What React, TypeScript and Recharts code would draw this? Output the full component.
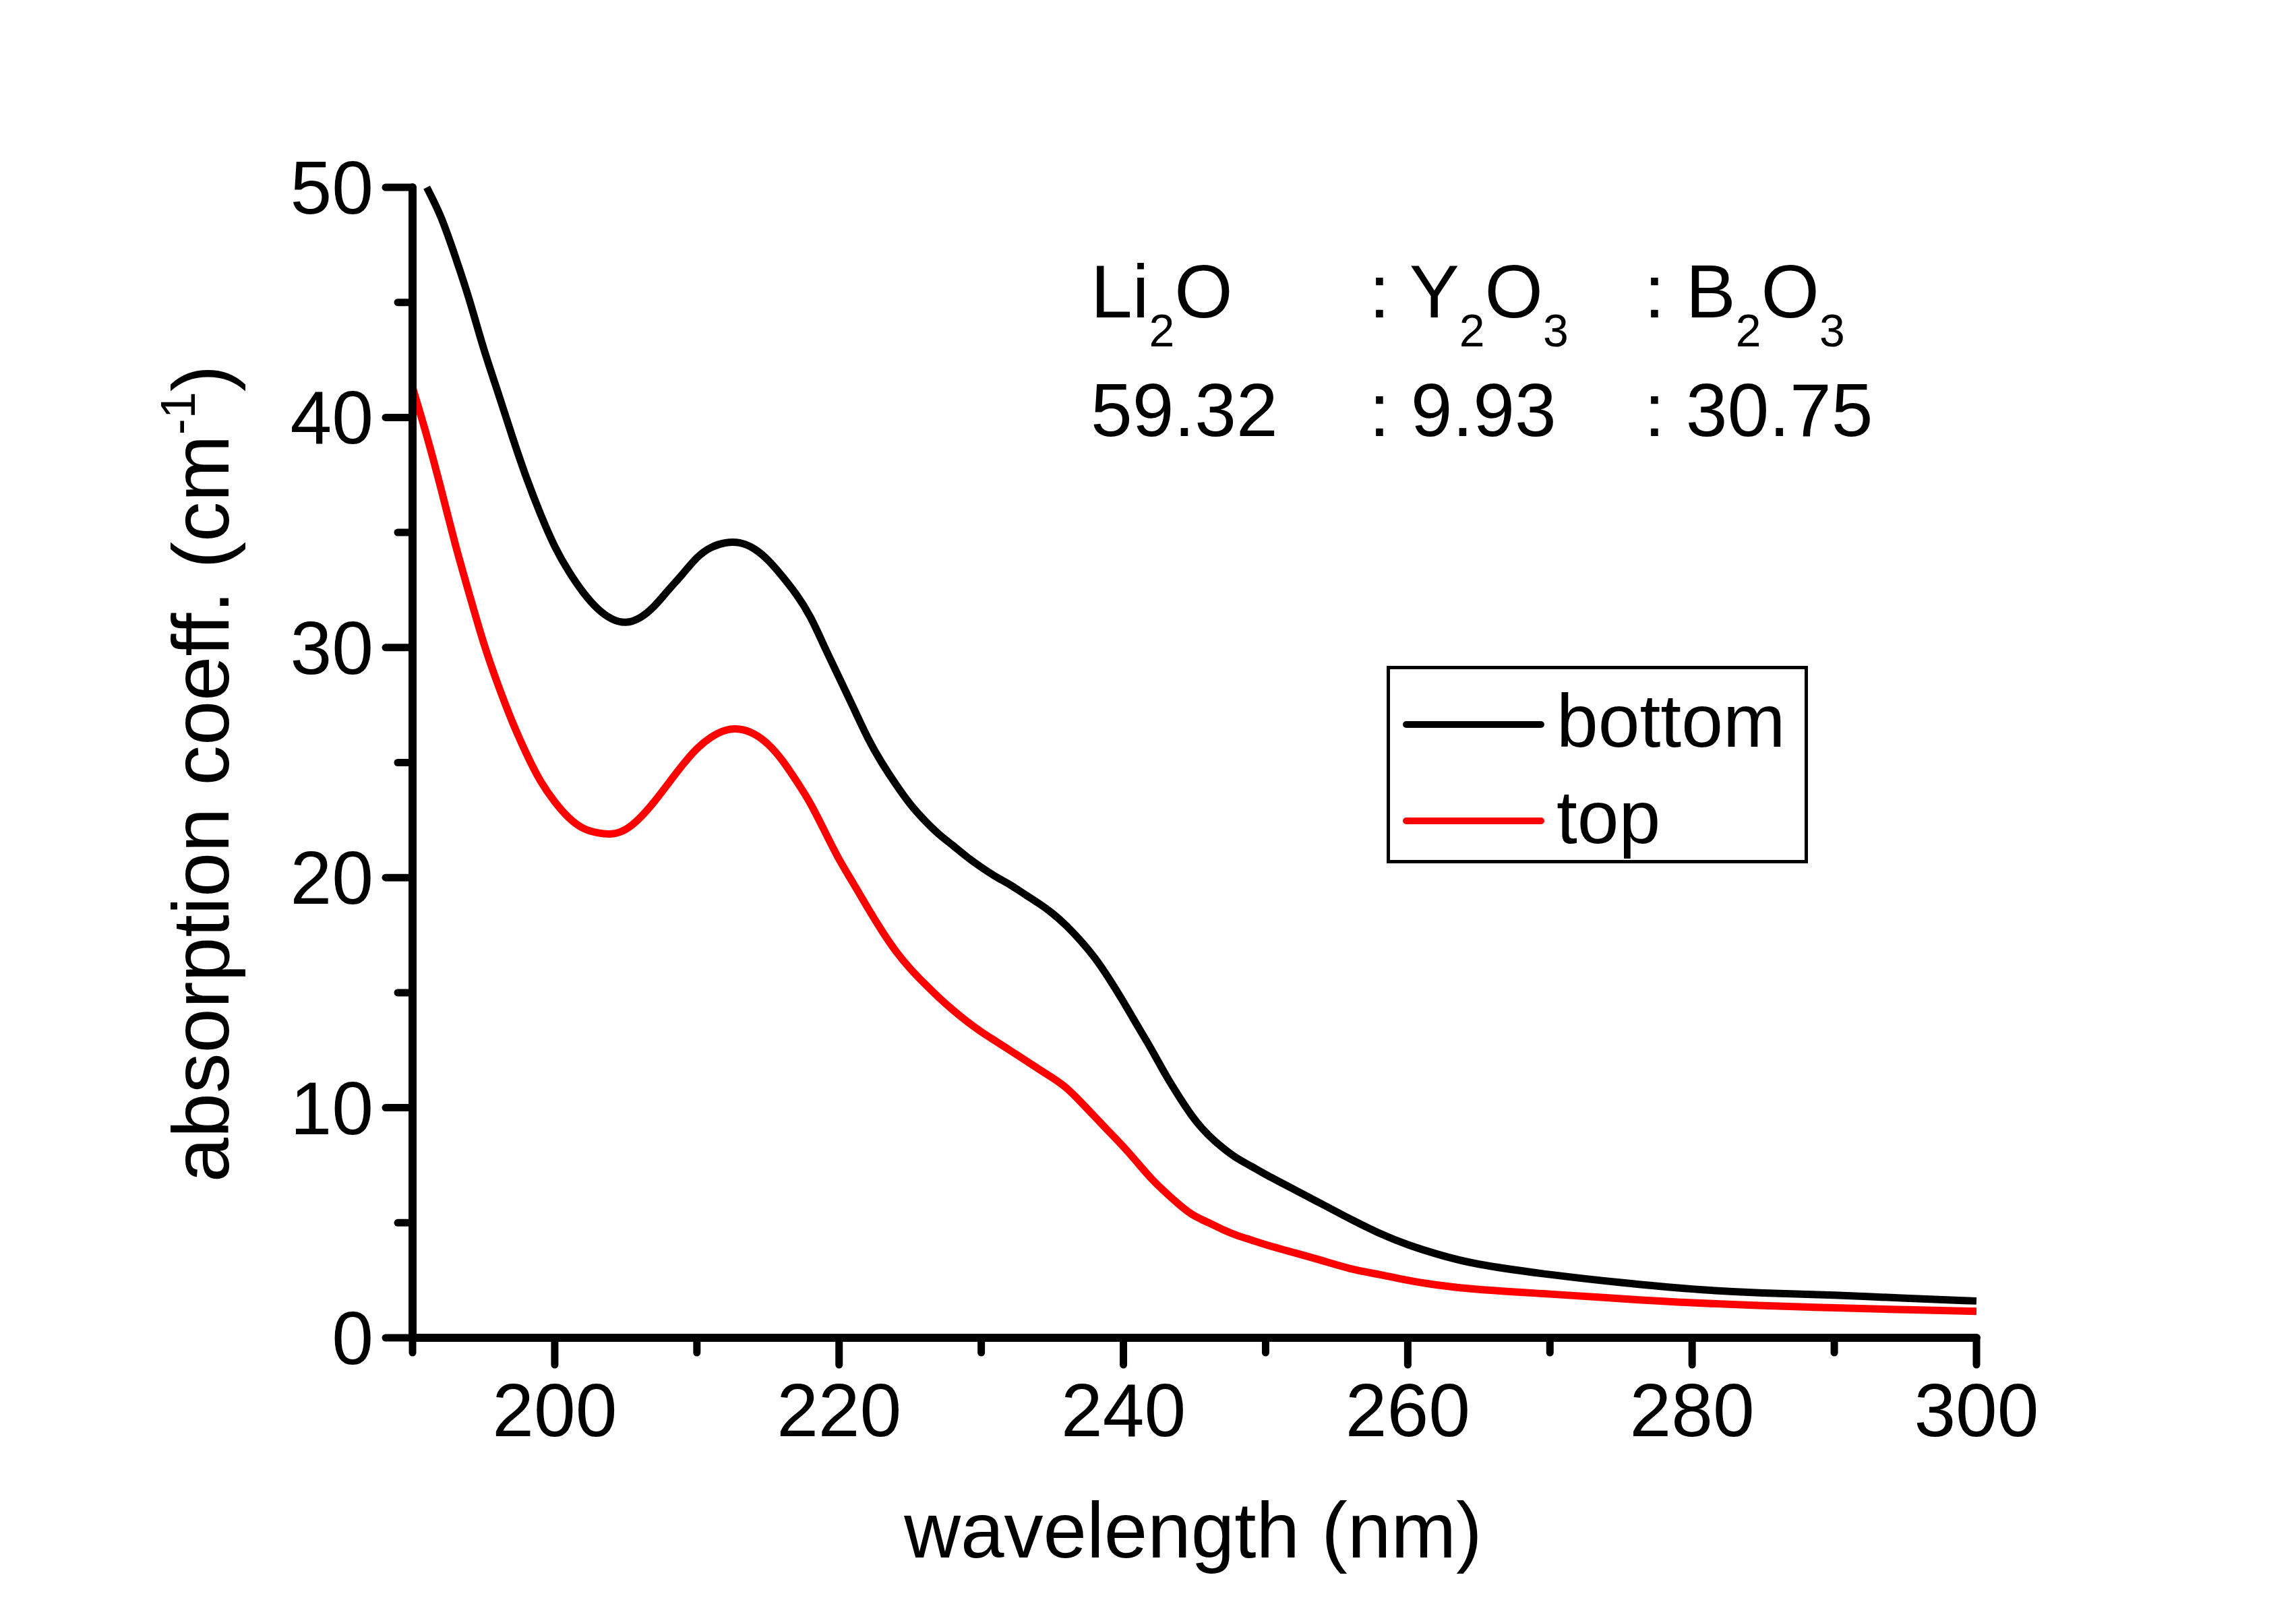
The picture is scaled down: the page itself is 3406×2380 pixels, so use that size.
import { Legend, Line, LineChart, XAxis, YAxis } from "recharts";

const wavelength = [
  190, 191, 192, 193, 194, 195, 196, 197, 198, 199, 200, 201, 202, 203, 204,
  205, 206, 207, 208, 209, 210, 211, 212, 213, 214, 215, 216, 217, 218, 219,
  220, 221, 222, 223, 224, 225, 226, 227, 228, 229, 230, 231, 232, 233, 234,
  235, 236, 237, 238, 239, 240, 241, 242, 243, 244, 245, 246, 247, 248, 249,
  250, 252, 254, 256, 258, 260, 262, 265, 270, 275, 280, 285, 290, 295, 300,
];

const bottom = [
  null, 50.0, 48.7, 47.0, 45.1, 43.0, 41.1, 39.2, 37.4, 35.8, 34.4, 33.3, 32.4,
  31.7, 31.25, 31.1, 31.3, 31.8, 32.5, 33.2, 33.9, 34.35, 34.55, 34.55, 34.3, 33.8,
  33.1, 32.3, 31.3, 30.0, 28.7, 27.4, 26.1, 25.0, 24.05, 23.2, 22.5, 21.9, 21.4,
  20.9, 20.45,
  20.05, 19.7, 19.3, 18.9, 18.45, 17.9, 17.25, 16.5, 15.6, 14.6, 13.55, 12.5,
  11.4, 10.4, 9.5, 8.8, 8.25, 7.8, 7.45, 7.1,
  6.45, 5.8, 5.15, 4.55, 4.05, 3.65, 3.2, 2.75, 2.4, 2.12, 1.95, 1.85, 1.72, 1.6,
];

const top = [
  41.3, 39.2, 36.9, 34.5, 32.3, 30.2, 28.4, 26.8, 25.4, 24.2, 23.3, 22.6, 22.15,
  21.95, 21.9, 22.1, 22.6, 23.3, 24.1, 24.9, 25.6, 26.1, 26.4, 26.45, 26.25, 25.8,
  25.1, 24.2, 23.2, 22.0, 20.8, 19.75, 18.7, 17.7, 16.8, 16.05, 15.4, 14.8,
  14.25, 13.75, 13.3,
  12.9, 12.5, 12.1, 11.7, 11.3, 10.85, 10.25, 9.6, 8.95, 8.3, 7.6, 6.9, 6.3,
  5.75, 5.3, 5.0, 4.7, 4.45, 4.25, 4.05,
  3.7, 3.35, 3.0, 2.75, 2.5, 2.3, 2.1, 1.9, 1.7, 1.52, 1.4, 1.3, 1.22, 1.15,
];

const xTicks = [190, 200, 210, 220, 230, 240, 250, 260, 270, 280, 290, 300];
const yTicks = [0, 5, 10, 15, 20, 25, 30, 35, 40, 45, 50];

const data = wavelength.map((nm, i) => ({ nm, bottom: bottom[i], top: top[i] }));

const FONT = "'Liberation Sans', Arial, sans-serif";
const FS = 111;

const XTick = ({ x, y, payload }: any) => {
  const major = payload.value % 20 === 0;
  return (
    <g>
      <line x1={x} x2={x} y1={y} y2={y + (major ? 40 : 22)} stroke="#000" strokeWidth={11} strokeLinecap="round" />
      {major && (
        <text x={x} y={y + 146} textAnchor="middle" fontSize={FS} fontFamily={FONT} fill="#000">
          {payload.value}
        </text>
      )}
    </g>
  );
};

const YTick = ({ x, y, payload }: any) => {
  const major = payload.value % 10 === 0;
  return (
    <g>
      <line x1={x} x2={x - (major ? 40 : 22)} y1={y} y2={y} stroke="#000" strokeWidth={11} strokeLinecap="round" />
      {major && (
        <text x={x - 58} y={y + 39} textAnchor="end" fontSize={FS} fontFamily={FONT} fill="#000">
          {payload.value}
        </text>
      )}
    </g>
  );
};

const LegendBox = () => (
  <svg width={625} height={293} style={{ display: "block" }}>
    <rect x={2.5} y={2.5} width={620} height={288} fill="#fff" stroke="#000" strokeWidth={5} />
    <line x1={29} x2={229} y1={87} y2={87} stroke="#000" strokeWidth={10} strokeLinecap="round" />
    <text x={252} y={120} fontSize={FS} fontFamily={FONT} fill="#000">bottom</text>
    <line x1={29} x2={229} y1={230} y2={230} stroke="#ff0000" strokeWidth={10} strokeLinecap="round" />
    <text x={252} y={263} fontSize={FS} fontFamily={FONT} fill="#000">top</text>
  </svg>
);

const SUB = 68;
const SD = 43;

export default function App() {
  return (
    <div style={{ position: "relative", width: 3390, height: 2364, background: "#fff" }}>
      <LineChart
        width={3390}
        height={2364}
        data={data}
        margin={{ top: 270, right: 466, left: 454, bottom: 237 }}
      >
        <XAxis
          type="number"
          dataKey="nm"
          domain={[190, 300]}
          ticks={xTicks}
          height={150}
          tickSize={0}
          tickMargin={0}
          tickLine={false}
          axisLine={{ stroke: "#000", strokeWidth: 12, strokeLinecap: "round" }}
          tick={(p: any) => <XTick {...p} />}
          interval={0}
        />
        <YAxis
          type="number"
          domain={[0, 50]}
          ticks={yTicks}
          width={150}
          tickSize={0}
          tickMargin={0}
          tickLine={false}
          axisLine={{ stroke: "#000", strokeWidth: 12, strokeLinecap: "round" }}
          tick={(p: any) => <YTick {...p} />}
          interval={0}
        />
        <Legend
          layout="vertical"
          align="center"
          verticalAlign="middle"
          content={() => <LegendBox />}
          wrapperStyle={{ position: "absolute", left: 2049, top: 980, width: 625, height: 293 }}
        />
        <Line
          type="natural"
          dataKey="bottom"
          stroke="#000000"
          strokeWidth={11}
          dot={false}
          isAnimationActive={false}
        />
        <Line
          type="natural"
          dataKey="top"
          stroke="#ff0000"
          strokeWidth={11}
          dot={false}
          isAnimationActive={false}
        />
      </LineChart>
      <svg
        width={3390}
        height={2364}
        style={{ position: "absolute", left: 0, top: 0, pointerEvents: "none" }}
        fontFamily={FONT}
        fontSize={FS}
        fill="#000"
      >
        <text x={1610} y={463}>
          <tspan>Li</tspan>
          <tspan fontSize={SUB} dy={SD}>2</tspan>
          <tspan dy={-SD}>O</tspan>
        </text>
        <text x={2023} y={463}>
          <tspan>: Y</tspan>
          <tspan fontSize={SUB} dy={SD}>2</tspan>
          <tspan dy={-SD}>O</tspan>
          <tspan fontSize={SUB} dy={SD}>3</tspan>
        </text>
        <text x={2431} y={463}>
          <tspan>: B</tspan>
          <tspan fontSize={SUB} dy={SD}>2</tspan>
          <tspan dy={-SD}>O</tspan>
          <tspan fontSize={SUB} dy={SD}>3</tspan>
        </text>
        <text x={1610} y={639}>59.32</text>
        <text x={2023} y={639}>: 9.93</text>
        <text x={2431} y={639}>: 30.75</text>
        <text x={1762} y={2303} textAnchor="middle" fontSize={116}>wavelength (nm)</text>
        <text transform="translate(331,1140) rotate(-90)" textAnchor="middle" fontSize={119}>
          <tspan>absorption coeff. (cm</tspan>
          <tspan fontSize={72} dy={-50}>-1</tspan>
          <tspan dy={50}>)</tspan>
        </text>
      </svg>
    </div>
  );
}
